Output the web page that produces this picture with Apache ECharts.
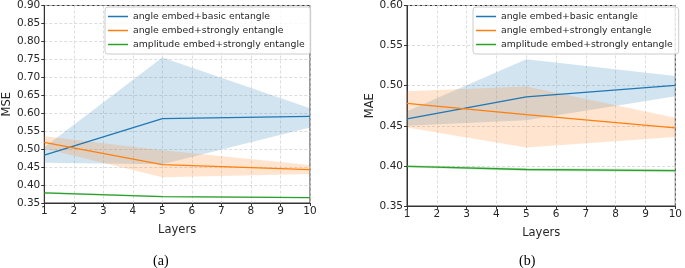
<!DOCTYPE html>
<html>
<head>
<meta charset="utf-8">
<script src="https://cdn.jsdelivr.net/npm/echarts@6/dist/echarts.min.js"></script>
<style>
  html, body { margin: 0; padding: 0; background: #fff; }
  #chart { width: 685px; height: 268px; }
</style>
</head>
<body>
<div id="chart"></div>
<script>
// ---- data ----
const layers = [1, 5, 10];
const names = ['angle embed+basic entangle', 'angle embed+strongly entangle', 'amplitude embed+strongly entangle'];
const colors = ['#1f77b4', '#ff7f0e', '#2ca02c'];

// (a) MSE
const mseBasic = [0.483, 0.585, 0.591];
const mseBasicLow = [0.462, 0.458, 0.560];
const mseBasicHigh = [0.505, 0.755, 0.614];
const mseStrong = [0.519, 0.457, 0.443];
const mseStrongLow = [0.502, 0.422, 0.431];
const mseStrongHigh = [0.536, 0.497, 0.456];
const mseAmp = [0.378, 0.368, 0.365];
const mseAmpLow = [0.375, 0.366, 0.363];
const mseAmpHigh = [0.381, 0.370, 0.367];

// (b) MAE
const maeBasic = [0.4585, 0.486, 0.5005];
const maeBasicLow = [0.450, 0.457, 0.487];
const maeBasicHigh = [0.468, 0.533, 0.512];
const maeStrong = [0.478, 0.464, 0.4475];
const maeStrongLow = [0.448, 0.423, 0.436];
const maeStrongHigh = [0.493, 0.499, 0.460];
const maeAmp = [0.3995, 0.3955, 0.394];
const maeAmpLow = [0.398, 0.3935, 0.392];
const maeAmpHigh = [0.401, 0.3975, 0.396];

const panels = [
  {mean: [mseBasic, mseStrong, mseAmp], low: [mseBasicLow, mseStrongLow, mseAmpLow], high: [mseBasicHigh, mseStrongHigh, mseAmpHigh]},
  {mean: [maeBasic, maeStrong, maeAmp], low: [maeBasicLow, maeStrongLow, maeAmpLow], high: [maeBasicHigh, maeStrongHigh, maeAmpHigh]}
];

const bandColors = ['rgba(31,119,180,0.2)', 'rgba(255,127,14,0.2)', 'rgba(44,160,44,0.2)'];
const font = 'DejaVu Sans';
const tickText = {fontFamily: font, fontSize: 10.5, color: '#262626'};
const gridLine = {show: true, lineStyle: {color: '#d4d4d4', type: [3, 2], width: 0.8}};

function xAxisFor(gi) {
  return {
    type: 'value', gridIndex: gi, min: 1, max: 10, interval: 1,
    name: 'Layers', nameLocation: 'middle', nameGap: 21,
    nameTextStyle: {fontFamily: font, fontSize: 11.5, color: '#262626'},
    axisLine: {lineStyle: {color: '#333'}},
    axisTick: {length: 3, lineStyle: {color: '#333'}},
    axisLabel: Object.assign({margin: 3}, tickText),
    splitLine: gridLine
  };
}
function yAxisFor(gi, max, name, gap) {
  return {
    type: 'value', gridIndex: gi, min: 0.35, max: max, interval: 0.05,
    name: name, nameLocation: 'middle', nameGap: gap, nameRotate: 90,
    nameTextStyle: {fontFamily: font, fontSize: 11.5, color: '#262626'},
    axisLine: {show: true, lineStyle: {color: '#333'}},
    axisTick: {show: true, length: 3, lineStyle: {color: '#333'}},
    axisLabel: Object.assign({margin: 4, formatter: v => v.toFixed(2)}, tickText),
    splitLine: gridLine
  };
}

// shaded band: one polygon through the low points and back along the high points
function bandItem(params, api) {
  if (params.dataIndex !== 0) return;
  const n = params.dataInsideLength;
  let pts = [];
  for (let j = 0; j < n; j++) pts.push(api.coord([api.value(0, j), api.value(1, j)]));
  for (let j = n - 1; j >= 0; j--) pts.push(api.coord([api.value(0, j), api.value(2, j)]));
  return {type: 'polygon', shape: {points: pts}, style: {fill: api.visual('color')}};
}

let series = [];
panels.forEach(function (p, gi) {
  for (let k = 0; k < 3; k++) {
    series.push({
      name: names[k], type: 'line', xAxisIndex: gi, yAxisIndex: gi,
      data: layers.map((x, i) => [x, p.mean[k][i]]),
      symbol: 'none', lineStyle: {color: colors[k], width: 1.3},
      itemStyle: {color: colors[k]}, z: 2
    });
    series.push({
      name: 'band' + gi + k, type: 'custom', xAxisIndex: gi, yAxisIndex: gi,
      silent: true, renderItem: bandItem,
      itemStyle: {color: bandColors[k]},
      encode: {x: 0, y: [1, 2]},
      data: layers.map((x, i) => [x, p.low[k][i], p.high[k][i]]),
      z: 2
    });
  }
});

function legendAt(left) {
  return {
    data: names, left: left, top: 7, orient: 'vertical',
    icon: 'rect', itemWidth: 20, itemHeight: 1.5, itemGap: 3,
    padding: [4, 6, 4, 3],
    backgroundColor: 'rgba(255,255,255,0.8)',
    borderColor: '#cccccc', borderWidth: 1, borderRadius: 3,
    textStyle: {fontFamily: font, fontSize: 9.3, color: '#262626', lineHeight: 11},
    selectedMode: false
  };
}

const chart = echarts.init(document.getElementById('chart'));
chart.setOption({
  animation: false,
  title: [
    {text: '(a)', left: 148, top: 249, textStyle: {fontFamily: 'Liberation Serif', fontSize: 14, fontWeight: 'normal', color: '#000'}},
    {text: '(b)', left: 514, top: 249, textStyle: {fontFamily: 'Liberation Serif', fontSize: 14, fontWeight: 'normal', color: '#000'}}
  ],
  grid: [
    {left: 38, top: 4, width: 272, height: 199, show: true, borderColor: '#333', borderWidth: 1},
    {left: 407, top: 4, width: 273, height: 202, show: true, borderColor: '#333', borderWidth: 1}
  ],
  legend: [legendAt(105), legendAt(473)],
  xAxis: [xAxisFor(0), xAxisFor(1)],
  yAxis: [yAxisFor(0, 0.90, 'MSE', 25), yAxisFor(1, 0.60, 'MAE', 28)],
  series: series
});
</script>
</body>
</html>
